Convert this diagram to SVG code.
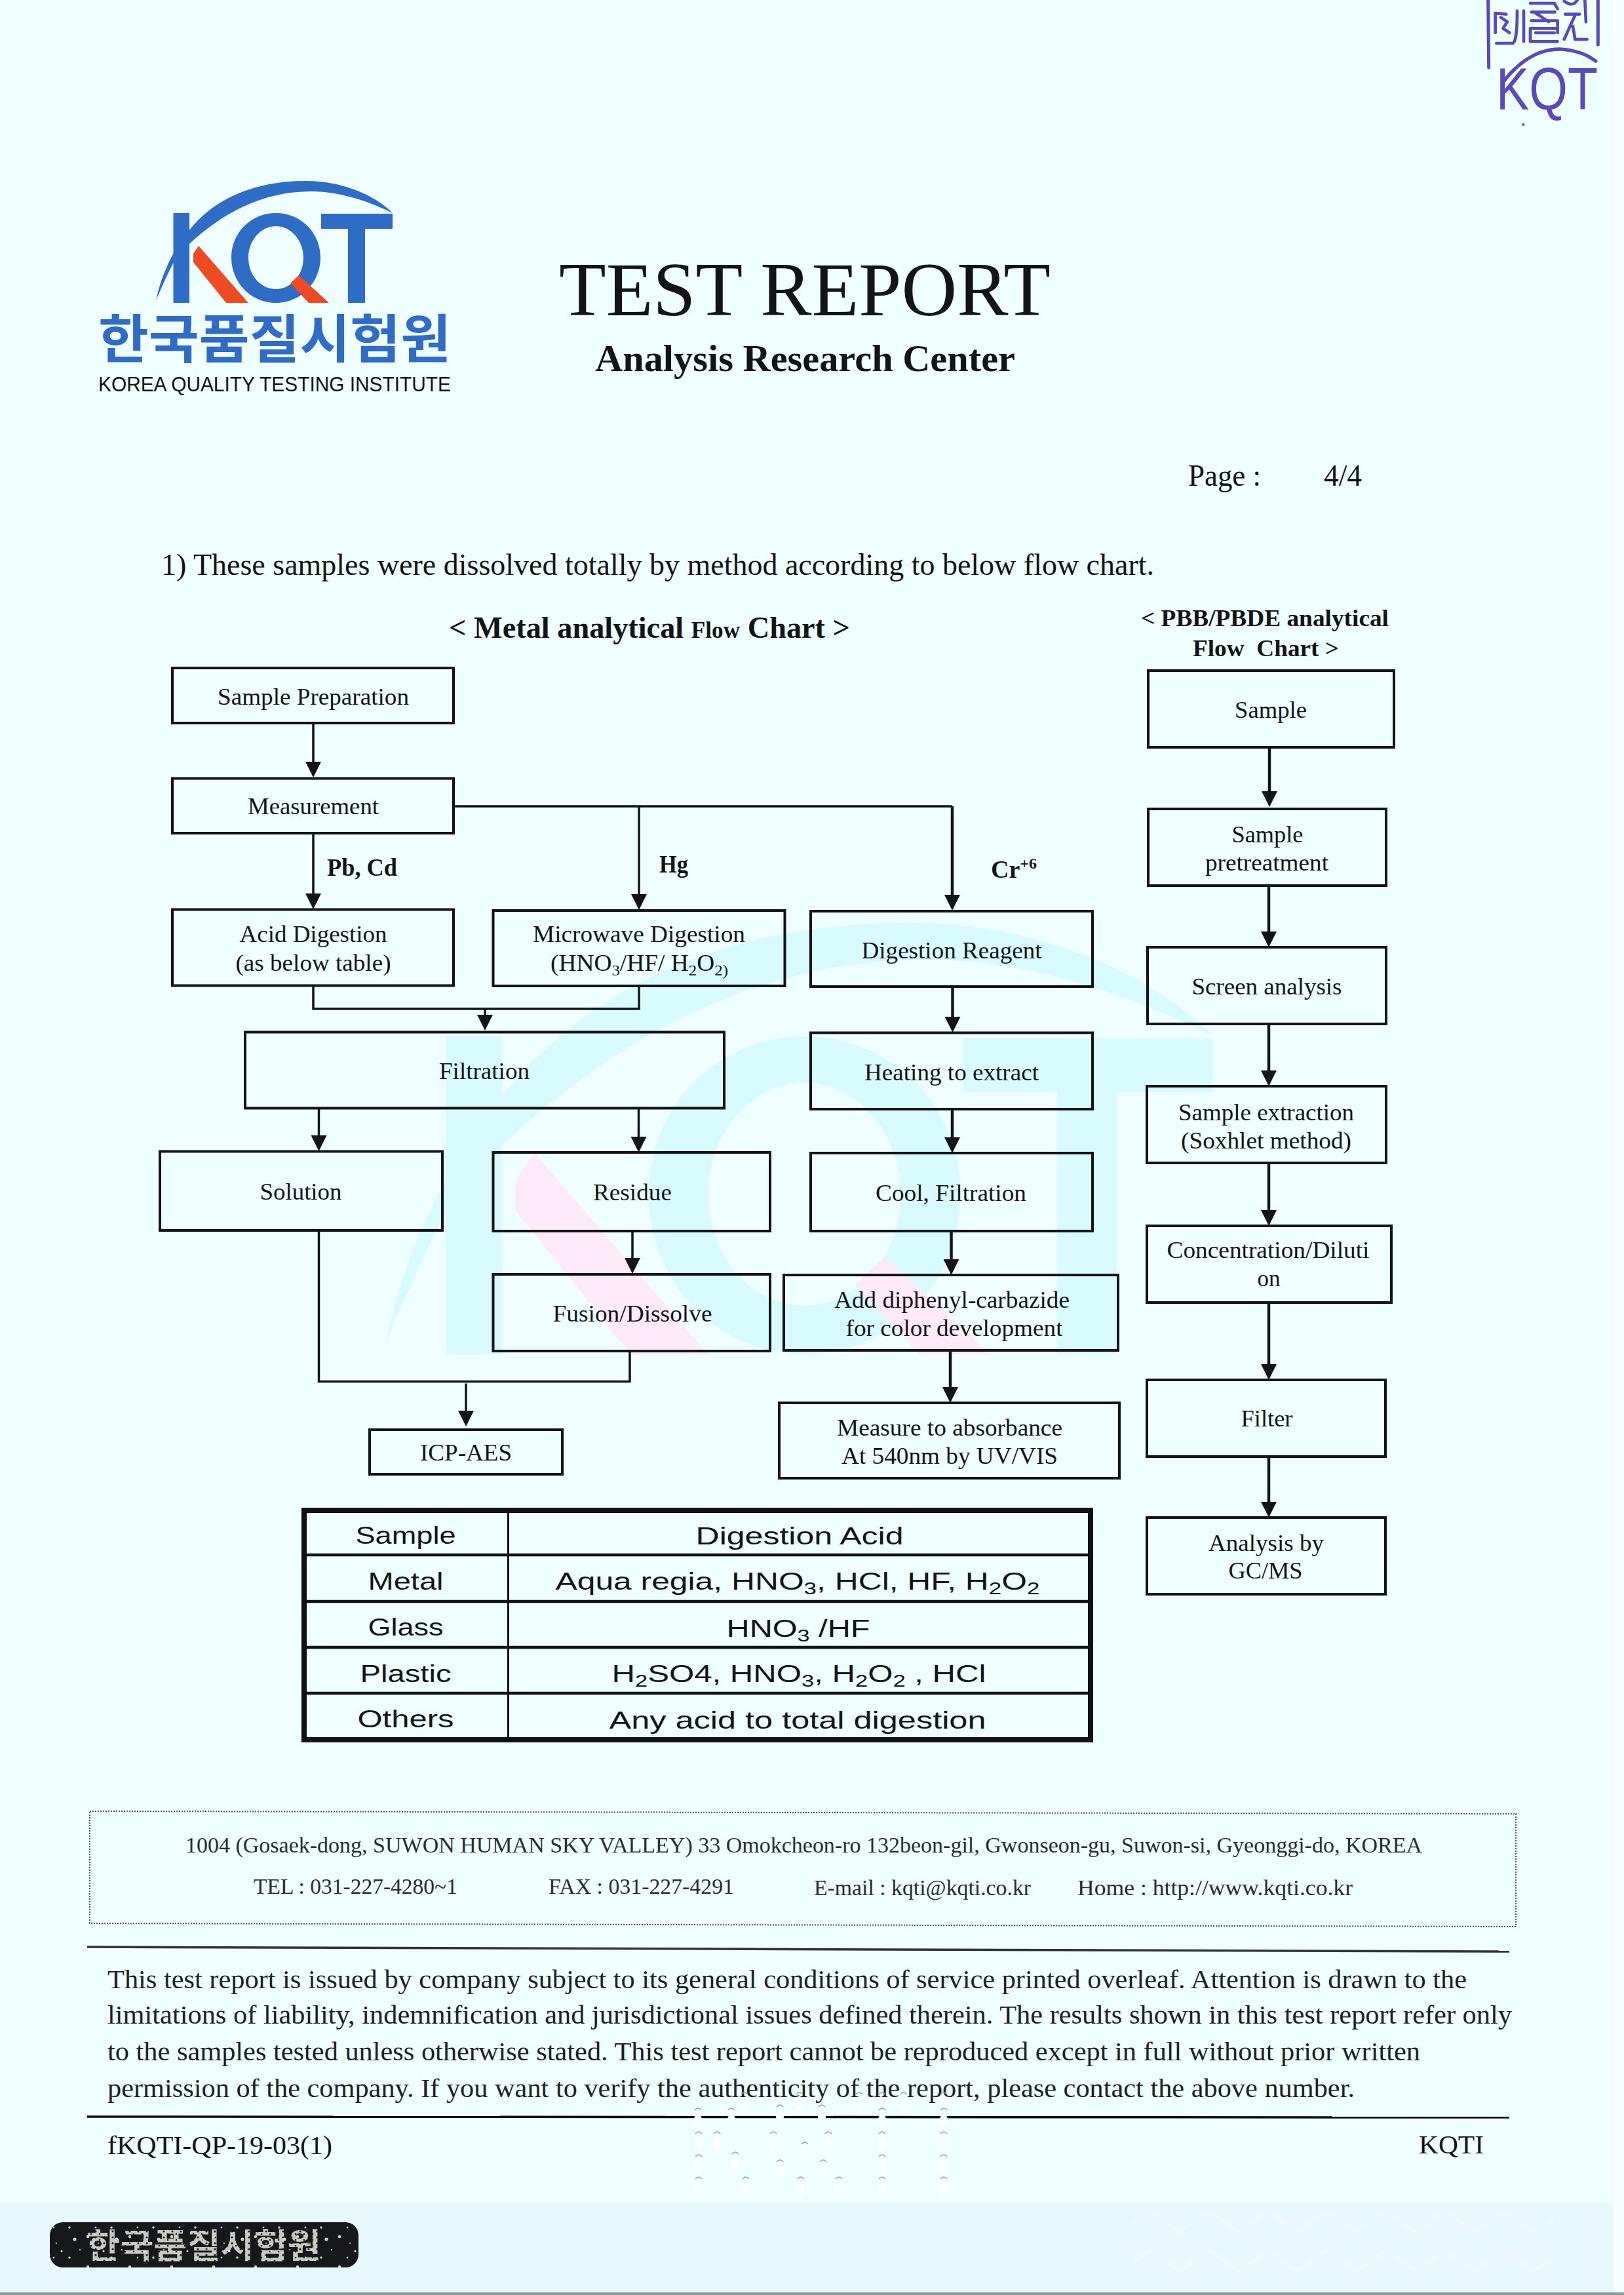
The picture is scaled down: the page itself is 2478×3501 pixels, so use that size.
<svg xmlns="http://www.w3.org/2000/svg" width="2478" height="3501" viewBox="0 0 2478 3501">
<style>
text{font-family:"Liberation Serif","Times New Roman",serif;fill:#141416}
.n{fill:none;stroke:#141416;stroke-width:4}
.t{font-size:36px;text-anchor:middle}
.lb{font-size:38px;font-weight:bold}
.c{fill:none;stroke:#141416;stroke-width:3.5}
.c2{fill:none;stroke:#141416;stroke-width:4.5}
.tb{font-family:"Liberation Sans",Arial,sans-serif;font-size:37px;text-anchor:middle}
.tl{stroke:#111;fill:none}
.ft{font-size:34px;fill:#2a2c30}
.p{font-size:41px;fill:#1e2024}
.sub{font-size:24px}
.s{fill:none;stroke:#5a49b6;stroke-width:15;stroke-linecap:round;stroke-linejoin:round;stroke-dasharray:34 3}
</style>
<defs>
<marker id="ah" markerUnits="userSpaceOnUse" markerWidth="24" markerHeight="24" viewBox="0 0 24 24" refX="16" refY="12" orient="auto"><path d="M0 0L24 12L0 24Z" fill="#141416"/></marker>
<g id="logoBlue">
<path d="M238 458C246 420 262 385 288 352C325 305 385 276 467 276C525 276 575 300 599 325C565 308 520 292 475 292C400 292 340 325 289 372L264 402C252 425 244 445 238 458Z"/>
<rect x="264.500" y="325" width="24.500" height="137"/>
<path fill-rule="evenodd" d="M421 325C459 325 489 355 489 393C489 431 459 462 421 462C383 462 353 431 353 393C353 355 383 325 421 325ZM421 345C398 345 379 367 379 393C379 420 398 441 421 441C444 441 463 420 463 393C463 367 444 345 421 345Z"/>
<rect x="490" y="326" width="109" height="23"/>
<rect x="531" y="326" width="26" height="136"/>
</g>
<g id="logoRed">
<path d="M303 375L295 387V400L345 462H379Z"/>
<path d="M456 420L502 462H471L443 432Z"/>
</g>
<g id="dot"><ellipse cx="0" cy="0" rx="6" ry="9" fill="#fbffff"/><path d="M-5 -15Q0 -21 5 -15" fill="none" stroke="#9aa4a8" stroke-width="1.500"/></g>
<pattern id="speck" width="64" height="46" patternUnits="userSpaceOnUse">
<circle cx="6" cy="8" r="2.200" fill="#d8d8d0"/><circle cx="30" cy="30" r="1.600" fill="#e8e8e0"/><circle cx="50" cy="12" r="2.600" fill="#cfcfc8"/><circle cx="18" cy="40" r="1.400" fill="#bfbfb8"/><circle cx="42" cy="40" r="1.800" fill="#d0d0c8"/><circle cx="58" cy="28" r="1.200" fill="#aaa"/><circle cx="22" cy="18" r="1.300" fill="#999"/>
</pattern>
<pattern id="dspeck" width="13" height="9" patternUnits="userSpaceOnUse"><circle cx="3" cy="2" r="1.600" fill="#17181c"/><circle cx="9" cy="6" r="1.300" fill="#17181c"/></pattern>
<pattern id="wave" width="90" height="60" patternUnits="userSpaceOnUse"><path d="M0 45L45 12L90 45" fill="none" stroke="#eff9fc" stroke-width="5"/></pattern>
</defs>

<g id="background">
<rect width="2478" height="3501" fill="#effeff"/>
<rect x="2462" width="16" height="3501" fill="#f6ffff"/>
<rect y="3360" width="2462" height="137" fill="#e8f9fc"/>
<rect x="1724" y="3377" width="646" height="106" fill="url(#wave)"/>
<rect y="3497" width="2478" height="4" fill="#8f9a9c"/>
</g>

<g id="watermark" transform="translate(680 2066) scale(3.5 3.54) translate(-264.500 -462)">
<use href="#logoBlue" fill="#d8fbff"/>
<use href="#logoRed" fill="#feeaf8"/>
</g>

<g id="logo">
<use href="#logoBlue" fill="#2f6cc6"/>
<use href="#logoRed" fill="#ef4a24"/>
<text x="419" y="546" text-anchor="middle" font-size="80" font-weight="700" textLength="538" lengthAdjust="spacingAndGlyphs" style="font-family:'Noto Sans CJK KR','Noto Sans',sans-serif;fill:#2f6cc6">한국품질시험원</text>
<text x="150" y="597" font-size="32" textLength="538" lengthAdjust="spacingAndGlyphs" style="font-family:'Liberation Sans',Arial,sans-serif;fill:#111">KOREA QUALITY TESTING INSTITUTE</text>
</g>

<g id="seal">
<g transform="translate(2240 0) scale(.3333)">
<path class="s" d="M92 0L95 310M595 0V205"/>
<path class="s" style="stroke-width:14" d="M130 198H205Q225 190 225 50M125 60V150M125 60L175 65M150 80L180 100L160 130L190 150M255 50V190M285 15H395L410 40M290 55H400M290 95H410M310 60L370 100M285 130H410M310 150H395M285 190H410M285 130V190M410 100V150M440 5Q480 35 500 0M445 65H510M490 70L440 180M480 120L490 180H545M535 0L540 100"/>
<path class="s" style="stroke-width:16;stroke-dasharray:40 4" d="M165 370Q280 225 420 225Q520 230 585 280"/>
<circle cx="253" cy="570" r="6" fill="#5a49b6"/>
</g>
<text x="2283" y="167" font-size="90" textLength="155" lengthAdjust="spacingAndGlyphs" style="font-family:'Liberation Sans',Arial,sans-serif;fill:#5a49b6">KQT</text>
</g>

<g id="header">
<text x="853" y="481" font-size="117" textLength="750" lengthAdjust="spacingAndGlyphs">TEST REPORT</text>
<text x="908" y="566" font-size="57" font-weight="bold" textLength="641" lengthAdjust="spacingAndGlyphs">Analysis Research Center</text>
<text x="1813" y="741" font-size="46" textLength="111" lengthAdjust="spacingAndGlyphs">Page :</text>
<text x="2020" y="741" font-size="46" textLength="58" lengthAdjust="spacingAndGlyphs">4/4</text>
<text x="246" y="877" font-size="46" textLength="1515" lengthAdjust="spacingAndGlyphs">1) These samples were dissolved totally by method according to below flow chart.</text>
<text x="685" y="973" font-size="46" font-weight="bold" textLength="612" lengthAdjust="spacingAndGlyphs">&lt; Metal analytical <tspan font-size="35">Flow</tspan> Chart &gt;</text>
<text x="1741" y="955" font-size="36" font-weight="bold" textLength="378" lengthAdjust="spacingAndGlyphs">&lt; PBB/PBDE analytical</text>
<text x="1820" y="1001" font-size="36" font-weight="bold" textLength="223" lengthAdjust="spacingAndGlyphs" xml:space="preserve">Flow  Chart &gt;</text>
</g>

<g id="connectors">
<path class="c" marker-end="url(#ah)" d="M478 1103V1178"/>
<path class="c" marker-end="url(#ah)" d="M478 1271V1379"/>
<path class="c" d="M692 1230H1453"/>
<path class="c" marker-end="url(#ah)" d="M975 1230V1380"/>
<path class="c2" marker-end="url(#ah)" d="M1453 1230V1381"/>
<path class="c" d="M478 1504V1539H975V1504"/>
<path class="c" marker-end="url(#ah)" d="M740 1539V1564"/>
<path class="c" marker-end="url(#ah)" d="M486.500 1691V1748"/>
<path class="c" marker-end="url(#ah)" d="M974.500 1691V1750"/>
<path class="c" marker-end="url(#ah)" d="M965 1878V1935"/>
<path class="c" d="M486.500 1877V2107.500H961"/>
<path class="c" d="M961 2061V2109"/>
<path class="c" marker-end="url(#ah)" d="M711 2110.500V2168"/>
<path class="c2" marker-end="url(#ah)" d="M1453.500 1505V1567"/>
<path class="c2" marker-end="url(#ah)" d="M1453 1692V1751"/>
<path class="c2" marker-end="url(#ah)" d="M1451.500 1878V1937"/>
<path class="c2" marker-end="url(#ah)" d="M1450 2060V2132"/>
<path class="c2" marker-end="url(#ah)" d="M1937 1140V1223"/>
<path class="c2" marker-end="url(#ah)" d="M1936 1351V1437"/>
<path class="c2" marker-end="url(#ah)" d="M1936 1562V1649"/>
<path class="c2" marker-end="url(#ah)" d="M1936 1774V1862"/>
<path class="c2" marker-end="url(#ah)" d="M1936 1987V2097"/>
<path class="c2" marker-end="url(#ah)" d="M1936 2222V2307"/>
</g>

<g id="edge-labels">
<text class="lb" x="499" y="1336" textLength="107" lengthAdjust="spacingAndGlyphs">Pb, Cd</text>
<text class="lb" x="1006" y="1331" textLength="44" lengthAdjust="spacingAndGlyphs">Hg</text>
<text class="lb" x="1512" y="1339">Cr<tspan font-size="24" dy="-14">+6</tspan></text>
</g>

<g id="n-sample-preparation"><rect class="n" x="263" y="1019" width="429" height="84"/><text class="t" x="478" y="1075" textLength="292" lengthAdjust="spacingAndGlyphs">Sample Preparation</text></g>
<g id="n-measurement"><rect class="n" x="263" y="1187.500" width="429" height="83.500"/><text class="t" x="478" y="1242" textLength="200" lengthAdjust="spacingAndGlyphs">Measurement</text></g>
<g id="n-acid-digestion"><rect class="n" x="263" y="1387.500" width="429" height="116"/><text class="t" x="478" y="1437" textLength="225" lengthAdjust="spacingAndGlyphs">Acid Digestion</text><text class="t" x="478" y="1481" textLength="237" lengthAdjust="spacingAndGlyphs">(as below table)</text></g>
<g id="n-microwave"><rect class="n" x="752.500" y="1389" width="445" height="115"/><text class="t" x="975" y="1437" textLength="324" lengthAdjust="spacingAndGlyphs">Microwave Digestion</text><text class="t" x="975.500" y="1481" textLength="271" lengthAdjust="spacingAndGlyphs">(HNO<tspan class="sub" dy="7">3</tspan><tspan dy="-7">/HF/ H</tspan><tspan class="sub" dy="7">2</tspan><tspan dy="-7">O</tspan><tspan class="sub" dy="7">2)</tspan></text></g>
<g id="n-filtration"><rect class="n" x="374" y="1574.500" width="731" height="116"/><text class="t" x="739" y="1646" textLength="138" lengthAdjust="spacingAndGlyphs">Filtration</text></g>
<g id="n-solution"><rect class="n" x="244" y="1756.500" width="431" height="120.500"/><text class="t" x="459" y="1830" textLength="125" lengthAdjust="spacingAndGlyphs">Solution</text></g>
<g id="n-residue"><rect class="n" x="752.500" y="1758" width="422.500" height="120"/><text class="t" x="965" y="1831" textLength="120" lengthAdjust="spacingAndGlyphs">Residue</text></g>
<g id="n-fusion"><rect class="n" x="752.500" y="1944" width="422.500" height="117"/><text class="t" x="965" y="2016" textLength="243" lengthAdjust="spacingAndGlyphs">Fusion/Dissolve</text></g>
<g id="n-icp"><rect class="n" x="564" y="2181" width="294" height="68"/><text class="t" x="711" y="2228" textLength="140" lengthAdjust="spacingAndGlyphs">ICP-AES</text></g>
<g id="n-digestion-reagent"><rect class="n" x="1237" y="1390" width="430" height="115"/><text class="t" x="1452" y="1462" textLength="275" lengthAdjust="spacingAndGlyphs">Digestion Reagent</text></g>
<g id="n-heating"><rect class="n" x="1237" y="1575.500" width="430" height="116.500"/><text class="t" x="1452" y="1648" textLength="266" lengthAdjust="spacingAndGlyphs">Heating to extract</text></g>
<g id="n-cool"><rect class="n" x="1237" y="1759" width="430" height="119"/><text class="t" x="1451" y="1832" textLength="230" lengthAdjust="spacingAndGlyphs">Cool, Filtration</text></g>
<g id="n-diphenyl"><rect class="n" x="1196" y="1945" width="510" height="115"/><text class="t" x="1452.500" y="1995" textLength="359" lengthAdjust="spacingAndGlyphs">Add diphenyl-carbazide</text><text class="t" x="1456" y="2038" textLength="331" lengthAdjust="spacingAndGlyphs">for color development</text></g>
<g id="n-measure"><rect class="n" x="1189" y="2140" width="519" height="115"/><text class="t" x="1449" y="2190" textLength="344" lengthAdjust="spacingAndGlyphs">Measure to absorbance</text><text class="t" x="1449" y="2233" textLength="330" lengthAdjust="spacingAndGlyphs">At 540nm by UV/VIS</text></g>

<g id="p-sample"><rect class="n" x="1752" y="1023" width="375" height="117"/><text class="t" x="1939" y="1095" textLength="110" lengthAdjust="spacingAndGlyphs">Sample</text></g>
<g id="p-pretreatment"><rect class="n" x="1752" y="1234" width="363" height="117"/><text class="t" x="1934" y="1285" textLength="109" lengthAdjust="spacingAndGlyphs">Sample</text><text class="t" x="1933" y="1328" textLength="188" lengthAdjust="spacingAndGlyphs">pretreatment</text></g>
<g id="p-screen"><rect class="n" x="1751" y="1445" width="364" height="117"/><text class="t" x="1933" y="1517" textLength="229" lengthAdjust="spacingAndGlyphs">Screen analysis</text></g>
<g id="p-extraction"><rect class="n" x="1750" y="1657" width="365" height="117"/><text class="t" x="1932" y="1709" textLength="268" lengthAdjust="spacingAndGlyphs">Sample extraction</text><text class="t" x="1932" y="1752" textLength="260" lengthAdjust="spacingAndGlyphs">(Soxhlet method)</text></g>
<g id="p-concentration"><rect class="n" x="1750" y="1870" width="373" height="117"/><text class="t" x="1935" y="1919" textLength="309" lengthAdjust="spacingAndGlyphs">Concentration/Diluti</text><text class="t" x="1936" y="1962" textLength="35" lengthAdjust="spacingAndGlyphs">on</text></g>
<g id="p-filter"><rect class="n" x="1750" y="2105" width="364" height="117"/><text class="t" x="1933" y="2176" textLength="79" lengthAdjust="spacingAndGlyphs">Filter</text></g>
<g id="p-analysis"><rect class="n" x="1750" y="2315" width="364" height="117"/><text class="t" x="1932" y="2366" textLength="176" lengthAdjust="spacingAndGlyphs">Analysis by</text><text class="t" x="1931" y="2408" textLength="113" lengthAdjust="spacingAndGlyphs">GC/MS</text></g>

<g id="table">
<rect class="tl" x="464" y="2304" width="1200" height="350" stroke-width="8"/>
<path class="tl" stroke-width="3" d="M775.500 2304V2654"/>
<path class="tl" stroke-width="4.500" d="M464 2372H1664M464 2443H1664M464 2513H1664M464 2583H1664"/>
<text class="tb" x="619" y="2355" textLength="153" lengthAdjust="spacingAndGlyphs">Sample</text>
<text class="tb" x="1220" y="2356" textLength="317" lengthAdjust="spacingAndGlyphs">Digestion Acid</text>
<text class="tb" x="619" y="2425" textLength="115" lengthAdjust="spacingAndGlyphs">Metal</text>
<text class="tb" x="1217" y="2425" textLength="739" lengthAdjust="spacingAndGlyphs">Aqua regia, HNO<tspan font-size="26" dy="7">3</tspan><tspan dy="-7">, HCl, HF, H</tspan><tspan font-size="26" dy="7">2</tspan><tspan dy="-7">O</tspan><tspan font-size="26" dy="7">2</tspan></text>
<text class="tb" x="619" y="2495" textLength="115" lengthAdjust="spacingAndGlyphs">Glass</text>
<text class="tb" x="1218" y="2497" textLength="219" lengthAdjust="spacingAndGlyphs">HNO<tspan font-size="26" dy="7">3</tspan><tspan dy="-7"> /HF</tspan></text>
<text class="tb" x="619" y="2566" textLength="139" lengthAdjust="spacingAndGlyphs">Plastic</text>
<text class="tb" x="1219" y="2566" textLength="571" lengthAdjust="spacingAndGlyphs">H<tspan font-size="26" dy="7">2</tspan><tspan dy="-7">SO4, HNO</tspan><tspan font-size="26" dy="7">3</tspan><tspan dy="-7">, H</tspan><tspan font-size="26" dy="7">2</tspan><tspan dy="-7">O</tspan><tspan font-size="26" dy="7">2</tspan><tspan dy="-7"> , HCl</tspan></text>
<text class="tb" x="619" y="2635" textLength="147" lengthAdjust="spacingAndGlyphs">Others</text>
<text class="tb" x="1217" y="2637" textLength="575" lengthAdjust="spacingAndGlyphs">Any acid to total digestion</text>
</g>

<g id="footer">
<path d="M137 2763L2313 2767V2939L137 2934Z" fill="none" stroke="#555" stroke-width="2" stroke-dasharray="2 2"/>
<text class="ft" x="283" y="2826" textLength="1887" lengthAdjust="spacingAndGlyphs">1004 (Gosaek-dong, SUWON HUMAN SKY VALLEY) 33 Omokcheon-ro 132beon-gil, Gwonseon-gu, Suwon-si, Gyeonggi-do, KOREA</text>
<text class="ft" x="387" y="2889" textLength="311" lengthAdjust="spacingAndGlyphs">TEL : 031-227-4280~1</text>
<text class="ft" x="837" y="2889" textLength="283" lengthAdjust="spacingAndGlyphs">FAX : 031-227-4291</text>
<text class="ft" x="1242" y="2891" textLength="331" lengthAdjust="spacingAndGlyphs">E-mail : kqti@kqti.co.kr</text>
<text class="ft" x="1644" y="2891" textLength="420" lengthAdjust="spacingAndGlyphs">Home : http://www.kqti.co.kr</text>
<path d="M133 2970L2303 2977" stroke="#333" stroke-width="3.500"/>
<text class="p" x="164" y="3033" textLength="2074" lengthAdjust="spacingAndGlyphs">This test report is issued by company subject to its general conditions of service printed overleaf. Attention is drawn to the</text>
<text class="p" x="164" y="3087" textLength="2143" lengthAdjust="spacingAndGlyphs">limitations of liability, indemnification and jurisdictional issues defined therein. The results shown in this test report refer only</text>
<text class="p" x="164" y="3143" textLength="2003" lengthAdjust="spacingAndGlyphs">to the samples tested unless otherwise stated. This test report cannot be reproduced except in full without prior written</text>
<text class="p" x="164" y="3199" textLength="1903" lengthAdjust="spacingAndGlyphs">permission of the company. If you want to verify the authenticity of the report, please contact the above number.</text>
<path d="M133 3229L2303 3230" stroke="#111" stroke-width="3.500"/>
<text x="164" y="3286" font-size="41" textLength="343" lengthAdjust="spacingAndGlyphs">fKQTI-QP-19-03(1)</text>
<text x="2165" y="3285" font-size="41" textLength="99" lengthAdjust="spacingAndGlyphs">KQTI</text>
</g>

<g id="emboss">
<use href="#dot" x="1136" y="3210"/><use href="#dot" x="1220" y="3210"/><use href="#dot" x="1311" y="3210"/><use href="#dot" x="1346" y="3210"/><use href="#dot" x="1379" y="3210"/><use href="#dot" x="1440" y="3210"/>
<use href="#dot" x="1065" y="3234"/><use href="#dot" x="1116" y="3234"/><use href="#dot" x="1190" y="3229"/><use href="#dot" x="1254" y="3229"/><use href="#dot" x="1346" y="3234"/><use href="#dot" x="1440" y="3234"/>
<use href="#dot" x="1066" y="3270"/><use href="#dot" x="1094" y="3270"/><use href="#dot" x="1180" y="3270"/><use href="#dot" x="1264" y="3270"/><use href="#dot" x="1346" y="3270"/><use href="#dot" x="1440" y="3270"/><use href="#dot" x="1228" y="3286"/>
<use href="#dot" x="1066" y="3305"/><use href="#dot" x="1122" y="3301"/><use href="#dot" x="1190" y="3313"/><use href="#dot" x="1256" y="3313"/><use href="#dot" x="1346" y="3305"/><use href="#dot" x="1440" y="3305"/>
<use href="#dot" x="1066" y="3339"/><use href="#dot" x="1138" y="3339"/><use href="#dot" x="1222" y="3339"/><use href="#dot" x="1280" y="3339"/><use href="#dot" x="1346" y="3339"/><use href="#dot" x="1440" y="3339"/>
</g>

<g id="stamp">
<rect x="76" y="3390" width="471" height="69" rx="20" fill="#17181c"/>
<text x="132" y="3445" font-size="52" font-weight="700" textLength="358" lengthAdjust="spacingAndGlyphs" style="font-family:'Noto Sans CJK KR','Noto Sans',sans-serif;fill:#c9c9bf">한국품질시험원</text>
<rect x="132" y="3394" width="358" height="60" fill="url(#dspeck)"/>
<rect x="76" y="3390" width="471" height="69" rx="20" fill="url(#speck)"/>
</g>
</svg>
